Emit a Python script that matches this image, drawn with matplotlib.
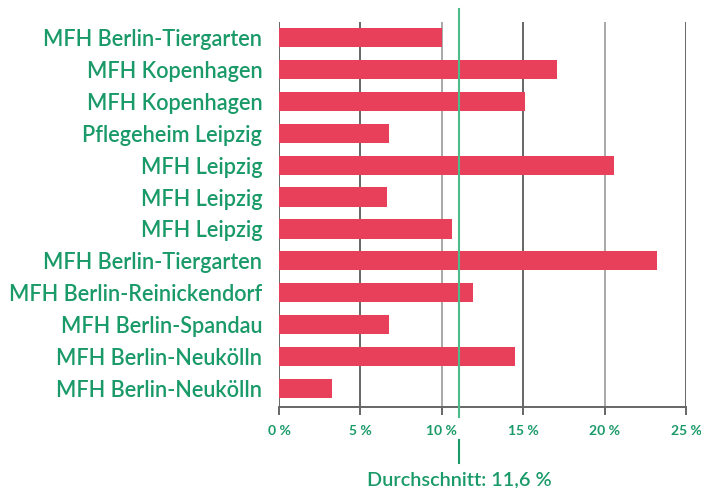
import matplotlib.pyplot as plt
import matplotlib.transforms as mtransforms

labels = [
    "MFH Berlin-Tiergarten",
    "MFH Kopenhagen",
    "MFH Kopenhagen",
    "Pflegeheim Leipzig",
    "MFH Leipzig",
    "MFH Leipzig",
    "MFH Leipzig",
    "MFH Berlin-Tiergarten",
    "MFH Berlin-Reinickendorf",
    "MFH Berlin-Spandau",
    "MFH Berlin-Neukölln",
    "MFH Berlin-Neukölln",
]
values = [10.0, 17.1, 15.1, 6.75, 20.55, 6.65, 10.6, 23.2, 11.9, 6.75, 14.5, 3.25]
xticks = [0, 5, 10, 15, 20, 25]
xtick_labels = ["0 %", "5 %", "10 %", "15 %", "20 %", "25 %"]
avg_pos = 11.05
avg_label = "Durchschnitt: 11,6 %"

red = "#e8405a"
green = "#1a9a68"
dark = "#666666"
light = "#a8a8a8"

plt.rcParams['font.family'] = ['Lato', 'DejaVu Sans']

fig = plt.figure(figsize=(7.01, 4.88), dpi=100)
ax = fig.add_axes([279 / 701, 1 - 407 / 488, (686 - 279) / 701, (407 - 22) / 488])

ypos = list(range(len(values)))
ax.barh(ypos, values, height=0.6, color=red, zorder=3)
ax.set_ylim(len(values) - 1 + 0.58, -0.486)
ax.set_xlim(0, 25)

for x in xticks:
    c = light if x in (10, 20) else dark
    ax.axvline(x, color=c, lw=1.4, zorder=1)

for s in ['top', 'right', 'left']:
    ax.spines[s].set_visible(False)
ax.spines['bottom'].set_color(dark)
ax.spines['bottom'].set_linewidth(1.4)

ax.set_yticks(ypos)
ax.set_yticklabels(labels, fontsize=15.6, color=green, fontweight='semibold')
ax.tick_params(axis='y', length=0, pad=12)

ax.set_xticks(xticks)
ax.set_xticklabels(xtick_labels, fontsize=10, color=green, fontweight='bold')
ax.tick_params(axis='x', length=6, width=1.4, color=dark, pad=7)

trans = mtransforms.blended_transform_factory(ax.transData, ax.transAxes)
ax.plot([avg_pos, avg_pos], [-0.026, 1.034], color="#4dbb8a", lw=1.5,
        transform=trans, clip_on=False, zorder=4)
ax.plot([avg_pos, avg_pos], [-0.086, -0.145], color=green, lw=1.5,
        transform=trans, clip_on=False, zorder=4)
ax.text(avg_pos, -0.19, avg_label, transform=trans, ha='center', va='center',
        fontsize=14.3, color=green, fontweight='semibold')

fig.savefig("out.png", dpi=100)
